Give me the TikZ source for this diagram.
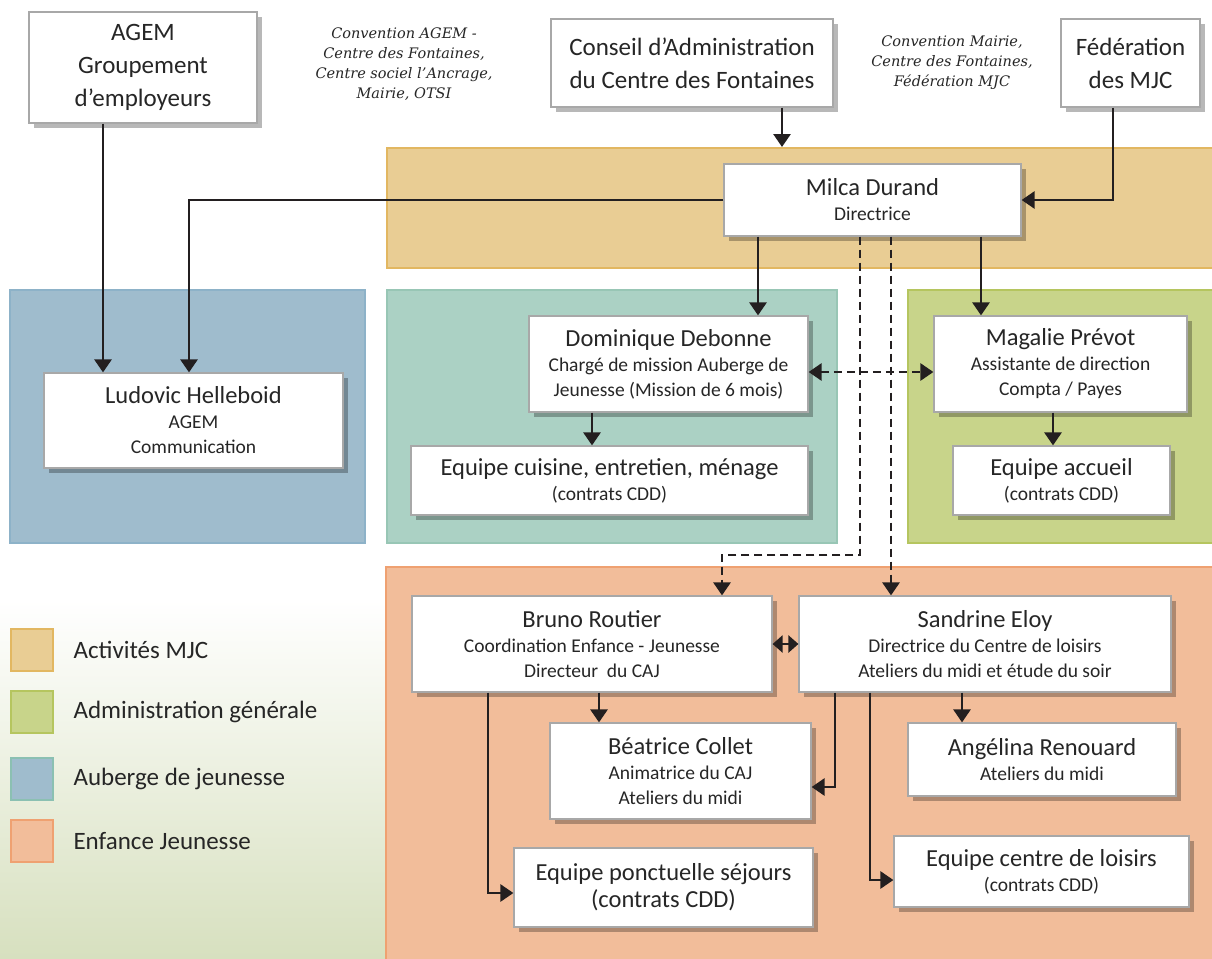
\documentclass[tikz,border=0pt]{standalone}
\usepackage{fontspec}
\setmainfont{Carlito}
\newfontfamily\convfont{DejaVu Serif}
\usetikzlibrary{arrows.meta,positioning,shadows}

\definecolor{txt}{HTML}{262626}
\definecolor{arrcol}{HTML}{231F20}
\definecolor{boxgray}{HTML}{A8A8A8}
\definecolor{mjcfill}{HTML}{E9CD94}
\definecolor{mjcline}{HTML}{E2B761}
\definecolor{bluefill}{HTML}{9FBCCD}
\definecolor{blueline}{HTML}{8DB2C8}
\definecolor{tealfill}{HTML}{ABD1C4}
\definecolor{tealline}{HTML}{98C6B5}
\definecolor{greenfill}{HTML}{C8D48A}
\definecolor{greenline}{HTML}{B5C55F}
\definecolor{salmfill}{HTML}{F2BD9A}
\definecolor{salmline}{HTML}{EFA171}
\definecolor{legblueline}{HTML}{8BC0B2}
\definecolor{bgmid}{HTML}{EEF1E2}
\definecolor{bgbot}{HTML}{D7E0BF}

\newcommand\nom[1]{{\fontsize{24.5}{25}\selectfont #1}}

\begin{document}
\begin{tikzpicture}[x=1pt,y=-1pt,>={Triangle[width=17pt,length=13pt]},
        box/.style={draw=boxgray,line width=1.2pt,fill=white,align=center,inner sep=0pt,
            text=txt,font=\fontsize{19.5}{25}\selectfont,
            drop shadow={shadow xshift=5pt,shadow yshift=-5pt,fill=black,opacity=.28}},
        topbox/.style={box,font=\fontsize{25}{33}\selectfont},
        bigbox/.style={box,font=\fontsize{24.5}{27}\selectfont},
        band/.style={draw=#1line,fill=#1fill,line width=2pt,inner sep=0pt},
        legsq/.style={band=#1,minimum size=42pt},
        legtxt/.style={text=txt,font=\fontsize{25}{30}\selectfont},
        conv/.style={align=center,text=txt,font=\convfont\itshape\fontsize{14.5}{20}\selectfont},
        wh/.style 2 args={minimum width=#1pt,minimum height=#2pt},
        arr/.style={draw=arrcol,line width=2.8pt},
        dsh/.style={arr,dash pattern=on 8pt off 5pt}]
    \useasboundingbox (0,0) rectangle (1212,958);
    \fill[white] (0,0) rectangle (1212,958);
    \shade[top color=white,middle color=bgmid,bottom color=bgbot] (0,600) rectangle (386,958);

    \node[band=mjc,wh={828}{120}] (mjc) at (801,208) {};
    \node[band=blue,wh={355}{253}] (aub) at (187.5,416.5) {};
    \node[band=teal,wh={450}{253}] (teal) at (612,416.5) {};
    \node[band=green,wh={307}{253}] (adm) at (1061.5,416.5) {};
    \node[band=salm,wh={829}{396}] (enf) at (800.5,765) {};

    \node[topbox,wh={228}{111}] (agem) at (143,67.5) {AGEM\\Groupement\\d’employeurs};
    \node[conv] (conv1) at (404,64) {Convention AGEM -\\Centre des Fontaines,\\Centre sociel l’Ancrage,\\Mairie, OTSI};
    \node[topbox,wh={282}{88}] (conseil) at (692,63) {Conseil d’Administration\\du Centre des Fontaines};
    \node[conv] (conv2) at (952,63) {Convention Mairie,\\Centre des Fontaines,\\Fédération MJC};
    \node[topbox,wh={139}{88}] (fede) at (1130.5,63) {Fédération\\des MJC};

    \node[box,wh={297}{72}] (milca) at (872.5,200) {\nom{Milca Durand}\\Directrice};
    \node[box,wh={299}{95}] (ludovic) at (193.5,420.5) {\nom{Ludovic Helleboid}\\AGEM\\Communication};
    \node[box,wh={279}{96}] (dominique) at (668.5,364) {\nom{Dominique Debonne}\\Chargé de mission Auberge de\\Jeunesse (Mission de 6 mois)};
    \node[box,wh={397}{69}] (cuisine) at (609.5,480.5) {\nom{Equipe cuisine, entretien, ménage}\\(contrats CDD)};
    \node[box,wh={253}{96}] (magalie) at (1060.5,364) {\nom{Magalie Prévot}\\Assistante de direction\\Compta / Payes};
    \node[box,wh={217}{69}] (accueil) at (1061.5,480.5) {\nom{Equipe accueil}\\(contrats CDD)};
    \node[box,wh={360}{96}] (bruno) at (592,644) {\nom{Bruno Routier}\\Coordination Enfance - Jeunesse\\Directeur\ \ du CAJ};
    \node[box,wh={372}{96}] (sandrine) at (985,644) {\nom{Sandrine Eloy}\\Directrice du Centre de loisirs\\Ateliers du midi et étude du soir};
    \node[box,wh={261}{96}] (beatrice) at (680.5,771) {\nom{Béatrice Collet}\\Animatrice du CAJ\\Ateliers du midi};
    \node[box,wh={268}{73}] (angelina) at (1042,759.5) {\nom{Angélina Renouard}\\Ateliers du midi};
    \node[bigbox,wh={299}{79}] (ponctuelle) at (663.5,887.5) {Equipe ponctuelle séjours\\(contrats CDD)};
    \node[box,wh={295}{71}] (centre) at (1041.5,871.5) {\nom{Equipe centre de loisirs}\\(contrats CDD)};

    \node[legsq=mjc] (lg1) at (32,650) {};
    \node[legsq=green] (lg2) at (32,711.5) {};
    \node[legsq=blue,draw=legblueline] (lg3) at (32,779) {};
    \node[legsq=salm] (lg4) at (32,841) {};
    \node[legtxt,right=16pt of lg1] (lt1) {Activités MJC};
    \node[legtxt,right=16pt of lg2] (lt2) {Administration générale};
    \node[legtxt,right=16pt of lg3] (lt3) {Auberge de jeunesse};
    \node[legtxt,right=16pt of lg4] (lt4) {Enfance Jeunesse};

    \draw[arr,->] (103,0 |- agem.south) -- (103,0 |- ludovic.north);
    \draw[arr,->] (milca.west) -| (189,0 |- ludovic.north);
    \draw[arr,->] (782,0 |- conseil.south) -- (782,0 |- mjc.north);
    \draw[arr,->] (1113,0 |- fede.south) |- (milca.east);
    \draw[arr,->] (758,0 |- milca.south) -- (758,0 |- dominique.north);
    \draw[arr,->] (981,0 |- milca.south) -- (981,0 |- magalie.north);
    \draw[dsh,->] (860,0 |- milca.south) -- (860,555) -| (722,0 |- bruno.north);
    \draw[dsh,->] (891,0 |- milca.south) -- (891,0 |- sandrine.north);
    \draw[dsh,<->] (dominique.east |- 0,372) -- (magalie.west |- 0,372);
    \draw[arr,->] (592,0 |- dominique.south) -- (592,0 |- cuisine.north);
    \draw[arr,->] (1053,0 |- magalie.south) -- (1053,0 |- accueil.north);
    \draw[arr,{Triangle[width=17pt,length=10pt]}-{Triangle[width=17pt,length=10pt]}] (bruno.east) -- (sandrine.west);
    \draw[arr,->] (599,0 |- bruno.south) -- (599,0 |- beatrice.north);
    \draw[arr,->] (488,0 |- bruno.south) |- (ponctuelle.west |- 0,893);
    \draw[arr,->] (835,0 |- sandrine.south) |- (beatrice.east |- 0,787);
    \draw[arr,->] (870,0 |- sandrine.south) |- (centre.west |- 0,880);
    \draw[arr,->] (962,0 |- sandrine.south) -- (962,0 |- angelina.north);
\end{tikzpicture}
\end{document}
